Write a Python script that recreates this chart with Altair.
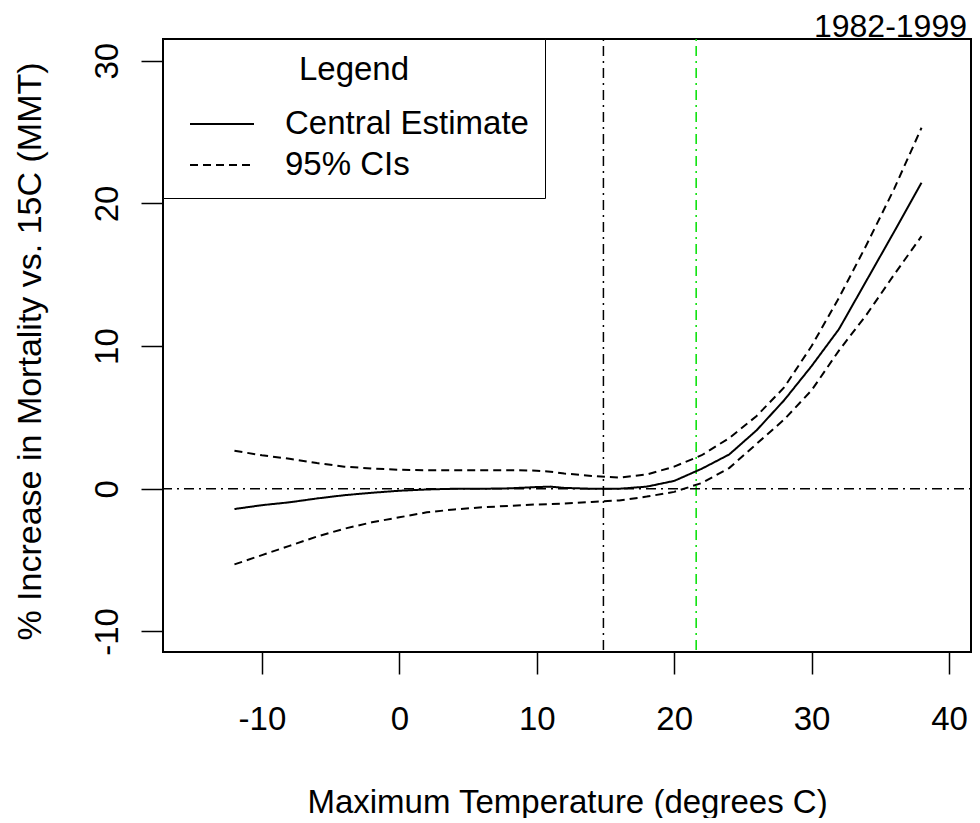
import altair as alt
import pandas as pd

# ---- data ----
temps = [-12, -10, -8, -6, -4, -2, 0, 2, 4, 6, 8, 10, 11, 12, 14, 16, 18, 20, 22, 24, 26, 28, 30, 32, 34, 36, 38]
central = [-1.42, -1.15, -0.95, -0.68, -0.45, -0.28, -0.14, -0.05, 0.0, 0.0, 0.03, 0.12, 0.15, 0.06, 0.0, 0.0,
           0.15, 0.55, 1.4, 2.4, 4.1, 6.2, 8.6, 11.2, 14.6, 18.0, 21.45]
upper = [2.66, 2.35, 2.1, 1.8, 1.55, 1.42, 1.33, 1.3, 1.3, 1.3, 1.3, 1.27, 1.2, 1.07, 0.9, 0.78,
         1.0, 1.55, 2.35, 3.55, 5.1, 7.1, 10.0, 13.4, 17.1, 21.0, 25.3]
lower = [-5.3, -4.65, -4.0, -3.35, -2.8, -2.35, -2.0, -1.65, -1.45, -1.3, -1.2, -1.1, -1.07, -1.03, -0.92, -0.82,
         -0.55, -0.22, 0.4, 1.45, 3.15, 4.85, 6.9, 9.7, 12.2, 15.0, 17.7]
ref_temps = [14.85, 21.6]
ref_colors = ["#000000", "#00e000"]
ref_values = [0]
x_ticks = [-10, 0, 10, 20, 30, 40]
y_ticks = [-10, 0, 10, 20, 30]
x_domain = [-17.2, 41.6]
y_domain = [-11.44, 31.52]
series_names = ["Central Estimate", "95% CIs"]
period_label = ["1982-1999"]

rows = []
for t, c, u, l in zip(temps, central, upper, lower):
    rows.append({"temp": t, "value": c, "series": series_names[0], "curve": "central"})
    rows.append({"temp": t, "value": u, "series": series_names[1], "curve": "upper"})
    rows.append({"temp": t, "value": l, "series": series_names[1], "curve": "lower"})
df = pd.DataFrame(rows)

FONT = "Liberation Sans"
FS = 33

xscale = alt.Scale(domain=x_domain, nice=False, zero=False)
yscale = alt.Scale(domain=y_domain, nice=False, zero=False)

x_axis = alt.Axis(values=x_ticks, title="Maximum Temperature (degrees C)", tickSize=22, tickWidth=1.5,
                  tickColor="black", domain=False, grid=False, labelFontSize=FS, labelFont=FONT,
                  labelColor="black", labelPadding=29, labelFlush=False, labelOverlap=False,
                  labelExpr="toString(datum.value)",
                  titleFontSize=FS, titleFont=FONT, titleFontWeight="normal", titleColor="black",
                  titleBaseline="alphabetic", titleY=160)
y_axis = alt.Axis(values=y_ticks, title="% Increase in Mortality vs. 15C (MMT)", tickSize=22, tickWidth=1.5,
                  tickColor="black", domain=False, grid=False, labelFontSize=FS, labelFont=FONT,
                  labelColor="black", labelAngle=270, labelAlign="center", labelBaseline="middle",
                  labelPadding=34, labelFlush=False, labelOverlap=False,
                  labelExpr="toString(datum.value)",
                  titleFontSize=34, titleFont=FONT, titleFontWeight="normal", titleColor="black",
                  titleAngle=270, titleBaseline="alphabetic", titleX=-123, titleY=312)

X = alt.X("temp:Q", scale=xscale, axis=x_axis)
Y = alt.Y("value:Q", scale=yscale, axis=y_axis)

legend = alt.Legend(title="Legend", orient="none", legendX=0, legendY=0, padding=16,
                    strokeColor="black", fillColor="white", titleAnchor="middle",
                    titleFont=FONT, titleFontSize=FS, titleFontWeight="normal", titleColor="black",
                    titleBaseline="line-top", titleLineHeight=30, titlePadding=19,
                    labelFont=FONT, labelFontSize=FS, labelColor="black",
                    labelOffset=72, symbolType="M-0.375,0H3.625", symbolSize=1024, symbolStrokeWidth=2,
                    symbolStrokeColor="black", symbolFillColor="transparent", rowPadding=7,
                    labelLimit=400)

lines = alt.Chart(df).mark_line(color="black", strokeWidth=2).encode(
    x=X,
    y=Y,
    detail="curve:N",
    strokeDash=alt.StrokeDash("series:N",
                              scale=alt.Scale(domain=series_names, range=[[1, 0], [8, 5]]),
                              legend=legend),
)

vrules = alt.Chart(pd.DataFrame({"temp": ref_temps, "color": ref_colors})).mark_rule(
    strokeDash=[2, 5, 10, 5], strokeWidth=1.5
).encode(x=X, color=alt.Color("color:N", scale=None))

hrule = alt.Chart(pd.DataFrame({"value": ref_values})).mark_rule(
    strokeDash=[2, 5, 10, 5], strokeWidth=1.5, color="black"
).encode(y=Y)

period = alt.Chart(pd.DataFrame({"label": period_label})).mark_text(
    font=FONT, fontSize=32, color="black", align="right", baseline="alphabetic", dy=-2, dx=-4
).encode(
    x=alt.X("xpos:Q", scale=xscale, axis=x_axis),
    y=alt.Y("ypos:Q", scale=yscale, axis=y_axis),
    text="label:N",
).transform_calculate(xpos=str(x_domain[1]), ypos=str(y_domain[1]))

chart = alt.layer(vrules, hrule, lines, period).properties(
    width=808,
    height=613,
    autosize=alt.AutoSizeParams(type="none"),
    padding={"left": 155, "top": 31, "right": 1, "bottom": 166},
    background="white",
).configure_view(stroke="black", strokeWidth=2)

chart.save("out.html", embed_options={"renderer": "svg", "actions": False})
